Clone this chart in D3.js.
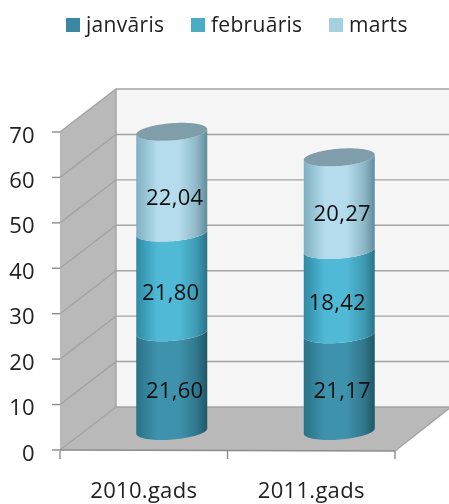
<!DOCTYPE html>
<html><head><meta charset="utf-8">
<script src="https://cdn.jsdelivr.net/npm/d3@7"></script>
<style>html,body{margin:0;padding:0;background:#fff}svg{display:block}text{font-family:"Open Sans",sans-serif;fill:#222;letter-spacing:.3px}</style>
</head><body><script>
const categories = ["2010.gads","2011.gads"];
const seriesNames = ["janvāris","februāris","marts"];
const janvaris = [21.60,21.17];
const februaris = [21.80,18.42];
const marts = [22.04,20.27];
const valueLabels = [["21,60","21,17"],["21,80","18,42"],["22,04","20,27"]];
const yTicks = [0,10,20,30,40,50,60,70];
const seriesValues = [janvaris,februaris,marts];

const W=449,H=504;
const svg=d3.select("body").append("svg").attr("width",W).attr("height",H).style("filter","blur(0.4px)");
const y=d3.scaleLinear().domain([0,70]).range([450,132]);
const x=d3.scaleBand().domain(categories).range([60,395]);
const depthX=56, depthY=-43;
const defs=svg.append("defs");
const line=p=>d3.line()(p);

// walls
svg.append("path").attr("d",line([[60,y(0)],[60,y(70)],[60+depthX,y(70)+depthY],[60+depthX,y(0)+depthY]])+"Z").attr("fill","#b9b9b9");
svg.append("path").attr("d",line([[60,y(0)],[395,y(0)+1],[395+depthX,y(0)+depthY],[60+depthX,y(0)+depthY]])+"Z").attr("fill","#b9b9b9");
svg.append("rect").attr("x",60+depthX).attr("y",y(70)+depthY).attr("width",W).attr("height",y(0)-y(70)).attr("fill","#f5f5f5");

// gridlines
const gridCol="#a3a3a3";
yTicks.forEach(t=>{
  svg.append("path").attr("fill","none").attr("stroke",gridCol).attr("stroke-width",1.4)
    .attr("d",line([[60,y(t)],[60+depthX,y(t)+depthY],[W+5,y(t)+depthY]]));
});
svg.append("path").attr("fill","none").attr("stroke",gridCol).attr("stroke-width",1.4)
  .attr("d",line([[60+depthX,y(0)+depthY],[60+depthX,y(70)+depthY]]));
svg.append("path").attr("fill","none").attr("stroke",gridCol).attr("stroke-width",1.4)
  .attr("d",line([[395,y(0)+1],[395+depthX,y(0)+depthY]]));

// axes
const axisCol="#8c8c8c";
svg.append("path").attr("fill","none").attr("stroke",axisCol).attr("stroke-width",1.4)
  .attr("d",line([[60,y(0)],[395,y(0)+1]]));
yTicks.forEach(t=>{
  svg.append("line").attr("x1",52).attr("x2",60).attr("y1",y(t)).attr("y2",y(t)).attr("stroke",axisCol).attr("stroke-width",1.4);
  svg.append("text").attr("x",35).attr("y",y(t)+10.5).attr("text-anchor","end").attr("font-size",22).text(t);
});
[60,x(categories[1]),395].forEach(px=>{
  svg.append("line").attr("x1",px).attr("x2",px).attr("y1",451).attr("y2",459).attr("stroke",axisCol).attr("stroke-width",1.4);
});
categories.forEach(c=>{
  svg.append("text").attr("x",x(c)+x.bandwidth()/2).attr("y",497.5).attr("text-anchor","middle").attr("font-size",22).text(c);
});

// cylinders
const palette=[
 {edgeL:"#2a7389",mid:"#3f92ac",edgeR:"#1f5767",swatch:"#3b87a0"},
 {edgeL:"#2f8aa5",mid:"#50bad6",edgeR:"#2a7389",swatch:"#4bacc6"},
 {edgeL:"#7fb0c1",mid:"#b4dcec",edgeR:"#5f8c9c",swatch:"#a5d0df"}];
palette.forEach((p,i)=>{
  const g=defs.append("linearGradient").attr("id","g"+i);
  [[0,p.edgeL],[.3,p.mid],[.6,p.mid],[.85,d3.interpolateRgb(p.mid,p.edgeR)(.45)],[1,p.edgeR]]
    .forEach(s=>g.append("stop").attr("offset",s[0]).attr("stop-color",s[1]));
});
const cylY=d3.scaleLinear().domain([0,70]).range([431,111]);
const rx=35.5, ry=8.6, tilt=-4.5, cylShift=28;
const rot=tilt*Math.PI/180;
function ellPt(cx,cy,a){const ex=rx*Math.cos(a)/Math.cos(rot),ey=ry*Math.sin(a);
  return [cx+ex*Math.cos(rot)-ey*Math.sin(rot),cy+ex*Math.sin(rot)+ey*Math.cos(rot)];}
function arcPts(cx,cy,rev){const pts=d3.range(0,41).map(i=>ellPt(cx,cy,Math.PI*i/40));return rev?pts:pts.reverse();}
const labelNudge=[[[3,-1],[3,-2]],[[-1,1],[-2,1]],[[3,6],[3,0]]];
categories.forEach((c,ci)=>{
  const cx=x(c)+x.bandwidth()/2+cylShift;
  let sum=0;
  const mids=[];
  seriesValues.forEach((vals,si)=>{
    const v0=sum,v1=sum+vals[ci]; sum=v1;
    const yb=cylY(v0),yt=cylY(v1);
    mids.push((v0+v1)/2);
    const bottom=arcPts(cx,yb,false);
    const top=arcPts(cx,yt,false).reverse();
    const pts=bottom.concat(top);
    svg.append("path").attr("d",d3.line()(pts)+"Z").attr("fill",`url(#g${si})`);
  });
  const yTop=cylY(sum);
  svg.append("path").attr("d",d3.line()(d3.range(0,81).map(i=>ellPt(cx,yTop,Math.PI*i/40)))+"Z").attr("fill","#7f9dab");
  seriesValues.forEach((vals,si)=>{
    const [nx,ny]=labelNudge[si][ci];
    svg.append("text").attr("x",cx+nx).attr("y",cylY(mids[si])+ny+17).attr("text-anchor","middle").attr("font-size",22).style("fill","#111").text(valueLabels[si][ci]);
  });
});

// legend
const legendX=d3.scaleOrdinal().domain(seriesNames).range([66,191,329]);
seriesNames.forEach((n,i)=>{
  svg.append("rect").attr("x",legendX(n)).attr("y",18).attr("width",14).attr("height",14).attr("fill",palette[i].swatch);
  svg.append("text").attr("x",legendX(n)+20).attr("y",32).attr("font-size",21).text(n);
});
</script></body></html>
